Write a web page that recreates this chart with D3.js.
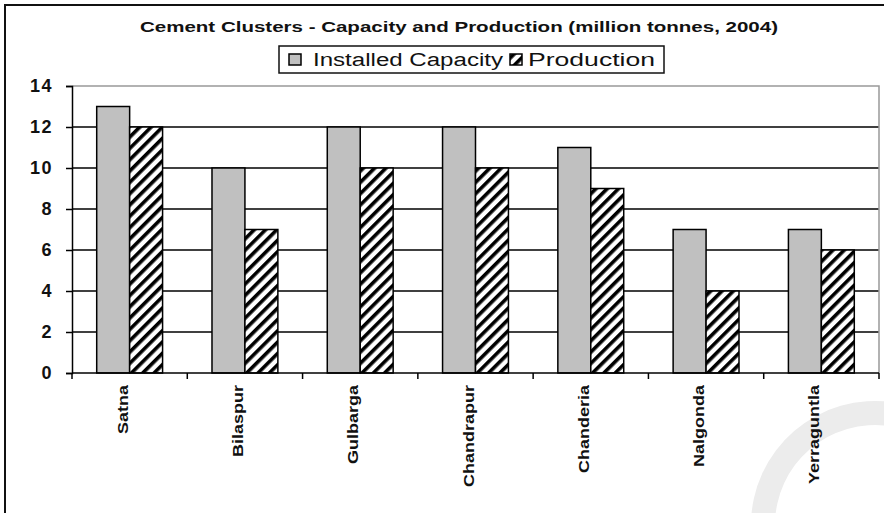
<!DOCTYPE html>
<html>
<head>
<meta charset="utf-8">
<script src="https://cdn.jsdelivr.net/npm/d3@7"></script>
<style>
  body { margin: 0; background: #fff; }
  text { font-family: "Liberation Sans", Arial, sans-serif; fill: #111; }
</style>
</head>
<body>
<svg id="chart" width="884" height="513"></svg>
<script>
// chart values
var clusters = ["Satna", "Bilaspur", "Gulbarga", "Chandrapur", "Chanderia", "Nalgonda", "Yerraguntla"];
var seriesNames = ["Installed Capacity", "Production"];
var capacity = [13, 10, 12, 12, 11, 7, 7];
var production = [12, 7, 10, 10, 9, 4, 6];
var yTicks = [0, 2, 4, 6, 8, 10, 12, 14];
var titleText = "Cement Clusters - Capacity and Production (million tonnes, 2004)";

var plot = {left: 72, right: 879, top: 86, bottom: 373};
var svg = d3.select("#chart");

// hatch for production bars
var defs = svg.append("defs");
defs.append("pattern")
    .attr("id", "hatch")
    .attr("patternUnits", "userSpaceOnUse")
    .attr("width", 8).attr("height", 8)
    .attr("patternTransform", "rotate(45)")
    .call(function(p) {
        p.append("rect").attr("width", 8).attr("height", 8).attr("fill", "#fff");
        p.append("rect").attr("width", 3.6).attr("height", 8).attr("fill", "#000");
    });

var fills = {"Installed Capacity": "#c0c0c0", "Production": "url(#hatch)"};

// faint watermark in the corner
svg.append("path")
    .attr("transform", "translate(875,525)")
    .attr("d", d3.arc().innerRadius(100).outerRadius(124).startAngle(-Math.PI / 2).endAngle(0.15)())
    .attr("fill", "#ececec");

// outer frame (runs off the right and bottom edge)
svg.append("rect")
    .attr("x", 5).attr("y", 5).attr("width", 900).attr("height", 530)
    .attr("fill", "none").attr("stroke", "#111").attr("stroke-width", 2);

var x0 = d3.scaleBand().domain(clusters).range([plot.left, plot.right]);
var x1 = d3.scaleBand().domain(seriesNames).range([0, x0.bandwidth()]).paddingOuter(0.75);
var y = d3.scaleLinear().domain([0, 14]).range([plot.bottom, plot.top]);

// gridlines
svg.append("g").selectAll("line")
    .data(yTicks.filter(function(t) { return t > 0 && t < 14; }))
    .enter().append("line")
    .attr("x1", plot.left).attr("x2", plot.right)
    .attr("y1", function(d) { return y(d); }).attr("y2", function(d) { return y(d); })
    .attr("stroke", "#000").attr("stroke-width", 1.6);

// plot border top + right (grey)
svg.append("path")
    .attr("d", "M" + plot.left + "," + y(14) + "H" + plot.right + "V" + plot.bottom)
    .attr("fill", "none").attr("stroke", "#999").attr("stroke-width", 1.5);

// bars
var rows = clusters.map(function(c, i) {
    return {cluster: c, values: [
        {series: seriesNames[0], value: capacity[i]},
        {series: seriesNames[1], value: production[i]}
    ]};
});

svg.append("g").selectAll("g")
    .data(rows)
    .enter().append("g")
    .attr("transform", function(d) { return "translate(" + x0(d.cluster) + ",0)"; })
    .selectAll("rect")
    .data(function(d) { return d.values; })
    .enter().append("rect")
    .attr("x", function(d) { return x1(d.series); })
    .attr("y", function(d) { return y(d.value); })
    .attr("width", x1.bandwidth())
    .attr("height", function(d) { return y(0) - y(d.value); })
    .attr("fill", function(d) { return fills[d.series]; })
    .attr("stroke", "#000").attr("stroke-width", 1.5);

// y axis
var yAxis = svg.append("g")
    .attr("transform", "translate(" + plot.left + ",0)")
    .call(d3.axisLeft(y).tickValues(yTicks).tickSize(6).tickPadding(13));
yAxis.select(".domain").attr("stroke", "#000").attr("stroke-width", 1.5);
yAxis.selectAll(".tick line").attr("stroke", "#000").attr("stroke-width", 1.5);
yAxis.selectAll("text")
    .style("font-family", "'Liberation Sans', Arial, sans-serif")
    .style("font-size", "18px").style("font-weight", "bold")
    .style("letter-spacing", "1.5px").attr("fill", "#111");

// x axis line and boundary ticks
var bounds = clusters.map(function(c) { return x0(c); }).concat([x0.range()[1]]);
var xAxis = svg.append("g");
xAxis.append("line")
    .attr("x1", plot.left).attr("x2", plot.right)
    .attr("y1", plot.bottom).attr("y2", plot.bottom)
    .attr("stroke", "#000").attr("stroke-width", 1.6);
xAxis.selectAll(".tk").data(bounds).enter().append("line")
    .attr("class", "tk")
    .attr("x1", function(d) { return d; }).attr("x2", function(d) { return d; })
    .attr("y1", plot.bottom).attr("y2", plot.bottom + 6)
    .attr("stroke", "#000").attr("stroke-width", 1.5);

xAxis.selectAll(".lbl").data(clusters).enter().append("text")
    .attr("class", "lbl")
    .attr("transform", function(d) {
        return "translate(" + (x0(d) + x0.bandwidth() / 2 - 2) + "," + (plot.bottom + 12) + ") rotate(-90) scale(1,0.85)";
    })
    .attr("text-anchor", "end")
    .style("font-size", "18px").style("font-weight", "bold")
    .text(function(d) { return d; });

// title
svg.append("text")
    .attr("x", 140).attr("y", 32)
    .attr("textLength", 638).attr("lengthAdjust", "spacingAndGlyphs")
    .style("font-size", "15px").style("font-weight", "bold")
    .text(titleText);

// legend
var legend = svg.append("g");
legend.append("rect")
    .attr("x", 279).attr("y", 46).attr("width", 385).attr("height", 27)
    .attr("fill", "#fff").attr("stroke", "#111").attr("stroke-width", 1.5);
var legendItems = [
    {name: seriesNames[0], sx: 289, tx: 313, len: 190},
    {name: seriesNames[1], sx: 510, tx: 528, len: 127}
];
legend.selectAll(".sw").data(legendItems).enter().append("rect")
    .attr("class", "sw")
    .attr("x", function(d) { return d.sx; }).attr("y", 54)
    .attr("width", 12).attr("height", 11)
    .attr("fill", function(d) { return fills[d.name]; })
    .attr("stroke", "#000").attr("stroke-width", 1.5);
legend.selectAll(".lt").data(legendItems).enter().append("text")
    .attr("class", "lt")
    .attr("x", function(d) { return d.tx; }).attr("y", 66)
    .attr("textLength", function(d) { return d.len; })
    .attr("lengthAdjust", "spacingAndGlyphs")
    .style("font-size", "18px")
    .text(function(d) { return d.name; });
</script>
</body>
</html>
